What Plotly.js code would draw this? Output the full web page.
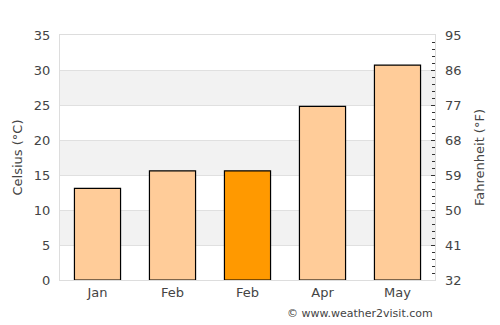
<!DOCTYPE html>
<html><head><meta charset="utf-8">
<script src="https://cdn.plot.ly/plotly-3.0.1.min.js"></script>
<style>html,body{margin:0;padding:0;background:#fff}#chart{width:500px;height:325px}</style>
</head><body><div id="chart"></div>
<script>
var months = ["Jan", "Feb", "Feb", "Apr", "May"];
var celsius = [13.1, 15.6, 15.6, 24.8, 30.7];
var barColors = ["#ffcc99", "#ffcc99", "#ff9900", "#ffcc99", "#ffcc99"];
var fahrenheitTicks = [32, 41, 50, 59, 68, 77, 86, 95];
var bandStarts = [5, 15, 25];
var bandWidth = 5;

var xpos = months.map(function(_, i){ return i; });

var shapes = bandStarts.map(function(b){
  return {type:'rect', xref:'paper', yref:'y', x0:0, x1:1, y0:b, y1:b+bandWidth,
          fillcolor:'#f2f2f2', line:{width:0}, layer:'below'};
});

var font = {family:'DejaVu Sans, sans-serif', size:13, color:'#444'};

var data = [{
  type:'bar', x:xpos, y:celsius,
  marker:{color:barColors, line:{color:'#000', width:1.2}},
  hoverinfo:'none'
},{
  type:'scatter', x:[xpos[0]], y:[fahrenheitTicks[0]], yaxis:'y2',
  mode:'markers', marker:{opacity:0}, hoverinfo:'none', showlegend:false
}];

var layout = {
  width:500, height:325,
  margin:{l:60, r:65, t:35, b:45},
  paper_bgcolor:'#fff', plot_bgcolor:'rgba(0,0,0,0)',
  showlegend:false, bargap:0.385,
  font:font,
  shapes:shapes,
  xaxis:{type:'linear', range:[-0.5, 4.5], tickvals:xpos, ticktext:months,
         showgrid:false, zeroline:false, showline:true, linecolor:'#dddddd', linewidth:1,
         mirror:true, ticks:'', tickfont:font, fixedrange:true},
  yaxis:{range:[0,35], dtick:5, tick0:0, showgrid:true, gridcolor:'#e0e0e0', gridwidth:1,
         zeroline:false, showline:true, linecolor:'#dddddd', linewidth:1, mirror:true,
         ticks:'', ticklabelstandoff:6, tickfont:font,
         title:{text:'Celsius (°C)', font:font, standoff:8}},
  yaxis2:{overlaying:'y', side:'right', range:[32,95], tickvals:fahrenheitTicks,
          showgrid:false, zeroline:false, showline:false,
          ticks:'inside', ticklen:4, tickwidth:1, tickcolor:'#333', tickfont:font,
          ticklabelstandoff:9,
          minor:{dtick:1.8, tick0:32, ticks:'inside', ticklen:3, tickcolor:'#333', showgrid:false},
          title:{text:'Fahrenheit (°F)', font:font, standoff:14}},
  annotations:[{xref:'paper', yref:'paper', x:1, y:0, yshift:-42, xanchor:'right', yanchor:'bottom',
                text:'© www.weather2visit.com', showarrow:false,
                font:{family:'DejaVu Sans, sans-serif', size:11, color:'#444'}}]
};

Plotly.newPlot('chart', data, layout, {staticPlot:true, displayModeBar:false});
</script></body></html>
